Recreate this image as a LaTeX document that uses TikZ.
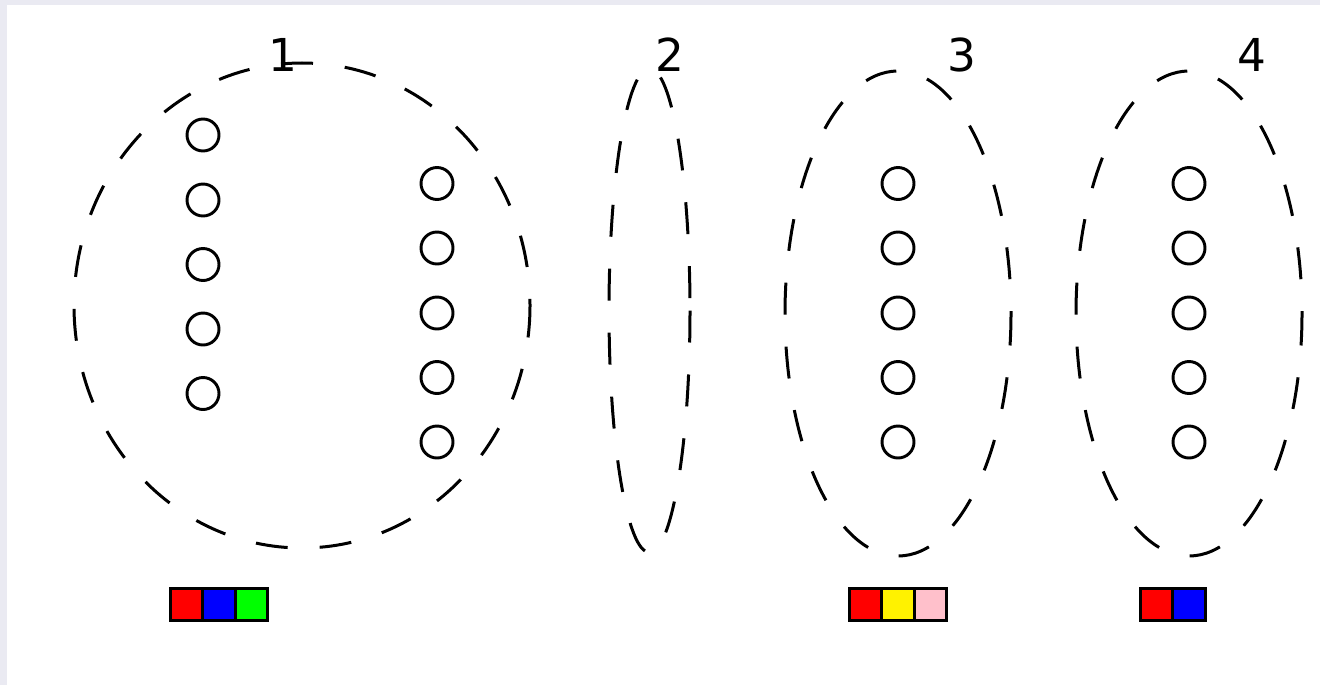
\documentclass[tikz,border=0pt]{standalone}
\usepackage{fontspec}
\setmainfont{DejaVu Sans}
\definecolor{bgl}{HTML}{EAEAF2}
\definecolor{lgreen}{HTML}{00FF00}
\definecolor{lpink}{HTML}{FFC0CB}
\tikzset{
  grp/.style={draw, line width=2.25pt, dash pattern=on 24pt off 24pt},
  unit/.style={circle, draw, line width=2.2pt, minimum size=24pt, inner sep=0pt},
  sq/.style={rectangle, draw, line width=2.2pt, minimum size=24.5pt, inner sep=0pt, fill=#1},
  lab/.style={anchor=base, inner sep=0pt, font=\fontsize{34}{40}\selectfont}
}
\begin{document}
\begin{tikzpicture}[x=0.75pt,y=-0.75pt]
\useasboundingbox (0,0) rectangle (1320,685);
\fill[bgl] (0,0) rectangle (1320,685);
\fill[white] (7,5) rectangle (1320,685);
% group centres
\coordinate (g1) at (302,305.5);
\coordinate (g2) at (649.5,310.5);
\coordinate (g3) at (898,313.5);
\coordinate (g4) at (1189,313.5);
% groups (dashed ellipses)
\draw[grp] (g1) ellipse [x radius=228, y radius=242.5];
\draw[grp] (g2) ellipse [x radius=40.5, y radius=242];
\draw[grp] (g3) ellipse [x radius=113, y radius=242.5];
\draw[grp] (g4) ellipse [x radius=113, y radius=242.5];
% labels
\node[lab] (l1) at (282.5,72) {1};
\node[lab] (l2) at (670,72) {2};
\node[lab] (l3) at (962,72) {3};
\node[lab] (l4) at (1252,72) {4};
% units
\foreach \i/\y in {1/135,2/200,3/264.5,4/329,5/393.5}{
  \node[unit] (a\i) at (203,\y) {};
}
\foreach \i/\y in {1/183.5,2/248,3/313,4/377.5,5/442}{
  \node[unit] (b\i) at (437,\y) {};
  \node[unit] (c\i) at (898,\y) {};
  \node[unit] (d\i) at (1189,\y) {};
}
% colour squares
\node[sq=red] (s11) at (186.5,604.5) {};
\node[sq=blue] (s12) at (219,604.5) {};
\node[sq=lgreen] (s13) at (251.5,604.5) {};
\node[sq=red] (s31) at (865.5,604.5) {};
\node[sq=yellow] (s32) at (898,604.5) {};
\node[sq=lpink] (s33) at (930.5,604.5) {};
\node[sq=red] (s41) at (1156.5,604.5) {};
\node[sq=blue] (s42) at (1189,604.5) {};
\end{tikzpicture}
\end{document}
